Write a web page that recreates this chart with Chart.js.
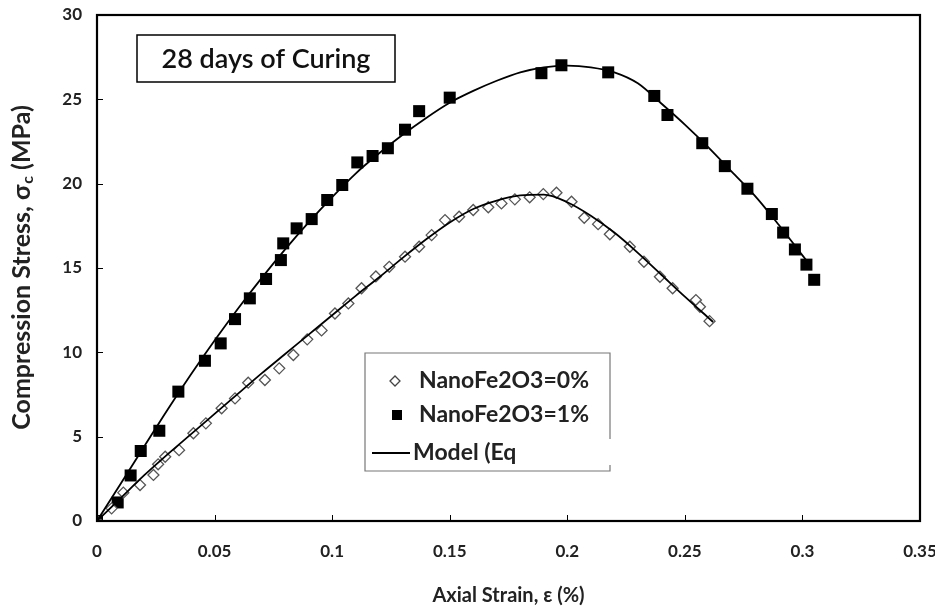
<!DOCTYPE html>
<html>
<head>
<meta charset="utf-8">
<script src="https://cdn.jsdelivr.net/npm/chart.js@4.4.0/dist/chart.umd.min.js"></script>
<style>
  html, body { margin: 0; padding: 0; background: #fff; }
  #wrap { width: 935px; height: 613px; position: relative; }
</style>
</head>
<body>
<div id="wrap"><canvas id="stressChart" width="935" height="613"></canvas></div>
<script>
// measured points, NanoFe2O3 = 0%
var strain0 = [0, 0.0062, 0.0112, 0.0183, 0.024, 0.026, 0.029, 0.0349, 0.041, 0.0463, 0.053, 0.0587,
  0.0643, 0.0714, 0.0775, 0.0835, 0.0894, 0.0955, 0.1012, 0.1069, 0.1125, 0.1186, 0.1243, 0.131,
  0.137, 0.1423, 0.148, 0.154, 0.16, 0.1664, 0.172, 0.1777, 0.184, 0.1898, 0.1954, 0.2018, 0.2072,
  0.2131, 0.2181, 0.2266, 0.2326, 0.2394, 0.2448, 0.2547, 0.2564, 0.2605];
var stress0 = [0, 0.75, 1.68, 2.13, 2.73, 3.36, 3.81, 4.2, 5.2, 5.79, 6.68, 7.27,
  8.2, 8.36, 9.05, 9.84, 10.77, 11.3, 12.3, 12.9, 13.8, 14.5, 15.07, 15.67,
  16.26, 16.95, 17.84, 18.04, 18.44, 18.6, 18.83, 19.07, 19.19, 19.38, 19.46, 18.93, 17.98,
  17.6, 17.0, 16.26, 15.37, 14.48, 13.8, 13.1, 12.7, 11.85];

// measured points, NanoFe2O3 = 1%
var strain1 = [0, 0.0088, 0.0143, 0.0186, 0.0265, 0.0346, 0.0459, 0.0526, 0.0587, 0.065, 0.0719,
  0.0782, 0.0792, 0.0849, 0.0913, 0.0979, 0.1043, 0.1107, 0.1172, 0.1237, 0.131, 0.137, 0.150,
  0.189, 0.1975, 0.2174, 0.237, 0.2426, 0.2574, 0.267, 0.2766, 0.287, 0.2918, 0.2968, 0.3017, 0.305];
var stress1 = [0, 1.1, 2.7, 4.15, 5.35, 7.67, 9.5, 10.53, 11.97, 13.2, 14.35,
  15.47, 16.46, 17.35, 17.9, 19.03, 19.92, 21.26, 21.64, 22.1, 23.2, 24.3, 25.1,
  26.55, 27.02, 26.6, 25.2, 24.07, 22.4, 21.04, 19.7, 18.2, 17.1, 16.1, 15.2, 14.3];

// model curves (Eq.)
var modelStrain0 = [0, 0.01, 0.02, 0.03, 0.04, 0.05, 0.06, 0.07, 0.08, 0.09, 0.1, 0.11, 0.12, 0.13,
  0.14, 0.15, 0.16, 0.17, 0.18, 0.19, 0.2, 0.21, 0.22, 0.23, 0.24, 0.25, 0.26, 0.262];
var modelStress0 = [0, 1.35, 2.7, 3.95, 5.15, 6.35, 7.55, 8.75, 9.9, 11.05, 12.2, 13.35, 14.45, 15.6,
  16.7, 17.7, 18.5, 19.0, 19.3, 19.35, 18.9, 18.1, 17.1, 15.9, 14.6, 13.3, 12.05, 11.8];
var modelStrain1 = [0, 0.01, 0.02, 0.03, 0.04, 0.05, 0.06, 0.07, 0.08, 0.09, 0.1, 0.11, 0.12, 0.13,
  0.14, 0.15, 0.16, 0.17, 0.18, 0.19, 0.2, 0.21, 0.22, 0.23, 0.24, 0.25, 0.26, 0.27, 0.28, 0.29, 0.3, 0.302];
var modelStress1 = [0, 2.2, 4.4, 6.6, 8.7, 10.7, 12.6, 14.4, 16.1, 17.7, 19.2, 20.6, 21.8, 22.9,
  23.9, 24.8, 25.5, 26.1, 26.6, 26.9, 27.0, 26.9, 26.6, 25.95, 24.75, 23.5, 22.15, 20.7, 19.25, 17.55, 15.75, 15.4];

var xTicks = [0, 0.05, 0.1, 0.15, 0.2, 0.25, 0.3, 0.35];
var yTicks = [0, 5, 10, 15, 20, 25, 30];
var seriesLabels = ['NanoFe2O3=0%', 'NanoFe2O3=1%', 'Model (Eq'];
var boxTitle = '28 days of Curing';

var FONT = "Lato, 'Open Sans', sans-serif";

function toPoints(xs, ys) {
  return xs.map(function(x, i) { return { x: x, y: ys[i] }; });
}

function noPad(scale) {
  scale.paddingLeft = 0;
  scale.paddingRight = 0;
  scale.paddingTop = 0;
  scale.paddingBottom = 0;
}

// inward tick marks + frame on top/right
var framePlugin = {
  id: 'frame',
  afterDatasetsDraw: function(chart) {
    var ctx = chart.ctx, a = chart.chartArea;
    var xs = chart.scales.x, ys = chart.scales.y;
    ctx.save();
    ctx.strokeStyle = '#000';
    ctx.lineWidth = 1;
    xTicks.forEach(function(v) {
      var px = Math.round(xs.getPixelForValue(v)) + 0.5;
      ctx.beginPath(); ctx.moveTo(px, a.bottom); ctx.lineTo(px, a.bottom - 6); ctx.stroke();
    });
    yTicks.forEach(function(v) {
      var py = Math.round(ys.getPixelForValue(v)) + 0.5;
      ctx.beginPath(); ctx.moveTo(a.left, py); ctx.lineTo(a.left + 6, py); ctx.stroke();
    });
    ctx.lineWidth = 2.2;
    ctx.strokeRect(a.left, a.top, a.right - a.left, a.bottom - a.top);
    ctx.restore();
  }
};

// y title with subscript c
var yTitlePlugin = {
  id: 'yTitle',
  afterDraw: function(chart) {
    var ctx = chart.ctx, a = chart.chartArea;
    var big = 'bold 25px ' + FONT, small = 'bold 16px ' + FONT;
    var p1 = 'Compression Stress, \u03c3', p2 = 'c', p3 = ' (MPa)';
    ctx.save();
    ctx.font = big; var w1 = ctx.measureText(p1).width, w3 = ctx.measureText(p3).width;
    ctx.font = small; var w2 = ctx.measureText(p2).width;
    var total = w1 + w2 + w3;
    ctx.translate(22, (a.top + a.bottom) / 2);
    ctx.rotate(-Math.PI / 2);
    ctx.fillStyle = '#222';
    ctx.textBaseline = 'middle';
    ctx.textAlign = 'left';
    var x = -total / 2;
    ctx.font = big; ctx.fillText(p1, x, 0);
    ctx.font = small; ctx.fillText(p2, x + w1 + 1, 6);
    ctx.font = big; ctx.fillText(p3, x + w1 + w2 + 1, 0);
    ctx.restore();
  }
};

// boxed caption and legend inside the plot
var boxesPlugin = {
  id: 'boxes',
  afterDraw: function(chart) {
    var ctx = chart.ctx, a = chart.chartArea;
    ctx.save();
    // caption
    ctx.strokeStyle = '#000';
    ctx.lineWidth = 1.5;
    ctx.strokeRect(a.left + 40, a.top + 20, 258, 47);
    ctx.font = '600 27px ' + FONT;
    ctx.fillStyle = '#111';
    ctx.textAlign = 'center';
    ctx.textBaseline = 'middle';
    ctx.fillText(boxTitle, a.left + 40 + 129, a.top + 44);

    // legend
    var lx = a.left + 268, ly = a.top + 338, lw = 245, lh = 118;
    ctx.strokeStyle = '#777';
    ctx.lineWidth = 1.2;
    ctx.beginPath();
    ctx.moveTo(lx + lw, ly + 86); ctx.lineTo(lx + lw, ly);
    ctx.lineTo(lx, ly); ctx.lineTo(lx, ly + lh); ctx.lineTo(lx + lw, ly + lh);
    ctx.lineTo(lx + lw, ly + lh - 6);
    ctx.stroke();

    var rows = [ly + 28, ly + 62, ly + 100];
    var ds = chart.data.datasets;
    // markers
    ctx.fillStyle = '#fff'; ctx.strokeStyle = '#444'; ctx.lineWidth = 1.3;
    ctx.beginPath();
    ctx.moveTo(lx + 25, rows[0]); ctx.lineTo(lx + 30, rows[0] - 5);
    ctx.lineTo(lx + 35, rows[0]); ctx.lineTo(lx + 30, rows[0] + 5); ctx.closePath();
    ctx.fill(); ctx.stroke();
    ctx.fillStyle = '#000';
    ctx.fillRect(lx + 27, rows[1] - 5, 10, 10);
    ctx.lineWidth = 1.8; ctx.strokeStyle = '#000';
    ctx.beginPath(); ctx.moveTo(lx + 7, rows[2]); ctx.lineTo(lx + 45, rows[2]); ctx.stroke();

    ctx.beginPath(); ctx.rect(lx, ly, lw - 5, lh); ctx.clip();
    ctx.font = 'bold 23px ' + FONT;
    ctx.fillStyle = '#222';
    ctx.textAlign = 'left';
    ctx.textBaseline = 'middle';
    ctx.fillText(ds[0].label, lx + 54, rows[0]);
    ctx.fillText(ds[1].label, lx + 54, rows[1]);
    ctx.fillText(seriesLabels[2], lx + 48, rows[2]);
    ctx.restore();
  }
};

var ctx = document.getElementById('stressChart');
var chart = new Chart(ctx, {
  type: 'scatter',
  data: {
    datasets: [
      {
        label: seriesLabels[0],
        data: toPoints(strain0, stress0),
        pointStyle: 'rectRot',
        pointRadius: 5.5,
        backgroundColor: '#fff',
        borderColor: '#555',
        borderWidth: 1.3,
        showLine: false,
        order: 2
      },
      {
        label: seriesLabels[1],
        data: toPoints(strain1, stress1),
        pointStyle: 'rect',
        pointRadius: 8.5,
        backgroundColor: '#000',
        borderColor: '#000',
        borderWidth: 0,
        showLine: false,
        order: 2
      },
      {
        label: seriesLabels[2],
        data: toPoints(modelStrain0, modelStress0),
        showLine: true,
        pointRadius: 0,
        borderColor: '#000',
        borderWidth: 1.8,
        cubicInterpolationMode: 'monotone',
        order: 1
      },
      {
        label: seriesLabels[2] + ' 1%',
        data: toPoints(modelStrain1, modelStress1),
        showLine: true,
        pointRadius: 0,
        borderColor: '#000',
        borderWidth: 1.8,
        cubicInterpolationMode: 'monotone',
        order: 1
      }
    ]
  },
  options: {
    responsive: false,
    animation: false,
    layout: { padding: { top: 15, right: 15, left: 0, bottom: 0 } },
    plugins: {
      legend: { display: false },
      tooltip: { enabled: false }
    },
    scales: {
      x: {
        type: 'linear',
        min: 0,
        max: 0.35,
        afterBuildTicks: function(scale) {
          scale.ticks = xTicks.map(function(v) { return { value: v }; });
        },
        afterFit: function(scale) { scale.height = 92; noPad(scale); },
        grid: { display: true, drawOnChartArea: false, drawTicks: false },
        border: { display: true, color: '#000', width: 2 },
        ticks: {
          padding: 20,
          color: '#222',
          font: { family: FONT, size: 17, weight: 'bold' },
          callback: function(v) { return String(+v.toFixed(2)); }
        },
        title: {
          display: true,
          text: 'Axial Strain, \u03b5 (%)',
          color: '#222',
          font: { family: FONT, size: 20, weight: 'bold' },
          padding: { top: 0, bottom: 5 }
        }
      },
      y: {
        type: 'linear',
        min: 0,
        max: 30,
        afterBuildTicks: function(scale) {
          scale.ticks = yTicks.map(function(v) { return { value: v }; });
        },
        afterFit: function(scale) { scale.width = 97; noPad(scale); },
        grid: { display: true, drawOnChartArea: false, drawTicks: false },
        border: { display: true, color: '#000', width: 2 },
        ticks: {
          padding: 15,
          color: '#222',
          font: { family: FONT, size: 17, weight: 'bold' }
        },
        title: { display: false }
      }
    }
  },
  plugins: [framePlugin, yTitlePlugin, boxesPlugin]
});
</script>
</body>
</html>
